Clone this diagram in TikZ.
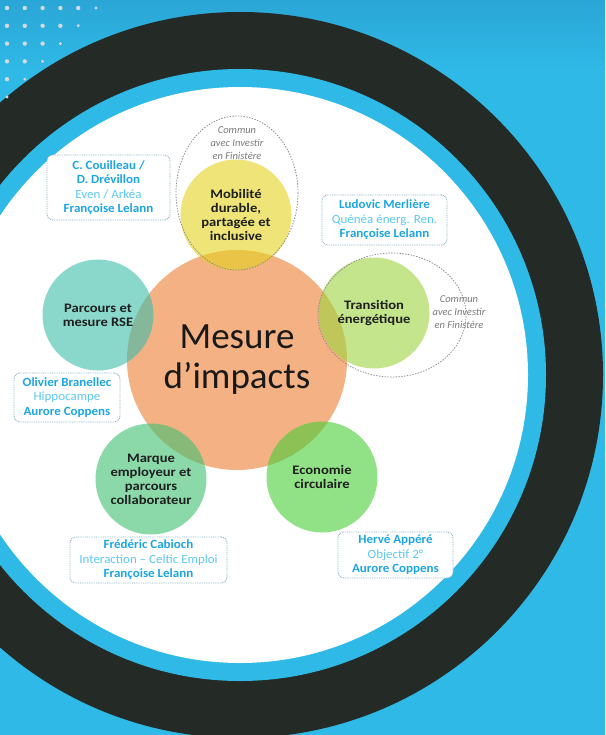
\documentclass[tikz,border=0pt]{standalone}
\usepackage{fontspec}
\setmainfont{Carlito}
\newfontfamily\topicfont[FakeStretch=1.12]{Carlito}
\newfontfamily\boxfont[FakeStretch=1.04]{Carlito}
\usetikzlibrary{shapes.geometric}
\definecolor{bgblue}{HTML}{2FB9E6}
\definecolor{topblue}{HTML}{2AA6D6}
\definecolor{ringdark}{HTML}{242A25}
\definecolor{dotgray}{HTML}{D3D9DE}
\definecolor{orangec}{HTML}{F4B183}
\definecolor{yellowc}{RGB}{227,210,30}
\definecolor{limec}{RGB}{157,213,63}
\definecolor{tealc}{RGB}{60,190,170}
\definecolor{mintc}{RGB}{63,193,113}
\definecolor{greenc}{RGB}{72,205,55}
\definecolor{namecol}{HTML}{1DA5E2}
\definecolor{orgcol}{HTML}{5CC8F0}
\definecolor{boxborder}{HTML}{8DB3C4}
\definecolor{dashgray}{HTML}{8C8C8C}
\definecolor{communcol}{HTML}{7A7A7A}
\newcommand{\nm}[1]{{\bfseries\color{namecol}#1}}
\newcommand{\og}[1]{{\color{orgcol}#1}}
\begin{document}
\begin{tikzpicture}[x=1pt,y=-1pt,
  topic/.style={circle, minimum size=111pt, inner sep=0pt, fill opacity=0.6,
    text opacity=1, align=center, text=black!88,
    font=\topicfont\bfseries\fontsize{13}{14}\selectfont},
  infobox/.style={draw=boxborder, line width=0.9pt, dash pattern=on 0.9pt off 0.9pt,
    rounded corners=6pt, fill=white, align=center, inner sep=0pt,
    font=\boxfont\fontsize{12.5}{14.5}\selectfont},
  zone/.style={draw=dashgray, line width=0.8pt, dash pattern=on 1.4pt off 1.4pt},
  communtxt/.style={align=center, text=communcol, inner sep=0pt,
    font=\itshape\fontsize{10.5}{12.8}\selectfont},
]
\useasboundingbox (0,0) rectangle (605,735);
\clip (0,0) rectangle (605,735);
% background
\fill[bgblue] (0,0) rectangle (605,735);
\shade[top color=topblue, bottom color=bgblue] (0,0) rectangle (605,70);
% rings
\fill[ringdark] (240,375) circle[radius=363pt];
\fill[bgblue] (240,375) circle[radius=306pt];
\fill[white] (240,375) circle[radius=288pt];
% dots
\foreach \r in {0,...,5}{
  \pgfmathtruncatemacro{\last}{5-\r}
  \foreach \c in {0,...,\last}{
    \pgfmathsetmacro{\rad}{ifthenelse(\c==\last,1.6,2.2)}
    \fill[dotgray] ({7+17.8*\c},{8+17.8*\r}) circle[radius=\rad pt];
  }
}
% central circle
\node[circle, minimum size=220pt, inner sep=0pt, fill=orangec, align=center,
  text=black!90, font=\fontsize{37}{40}\selectfont] (impact) at (237,360)
  {Mesure\\d’impacts};
% topics
\node[topic, fill=yellowc] (mobilite) at (236,215)
  {Mobilité\\durable,\\partagée et\\inclusive};
\node[topic, fill=limec] (transition) at (374,313)
  {Transition\\énergétique};
\node[topic, fill=tealc] (rse) at (98,315)
  {Parcours et\\mesure RSE};
\node[topic, fill=mintc] (marque) at (151,479)
  {Marque\\employeur et\\parcours\\collaborateur};
\node[topic, fill=greenc] (economie) at (322,477)
  {Economie\\circulaire};
% dashed zones
\draw[zone] (237,193) ellipse[x radius=61pt, y radius=77pt];
\draw[zone] (392,315) ellipse[x radius=74pt, y radius=62pt];
\node[communtxt] (commun1) at (237,143) {Commun\\avec Investir\\en Finistère};
\node[communtxt] (commun2) at (459,312) {Commun\\avec Investir\\en Finistère};
% info boxes
\node[infobox, minimum width=123pt, minimum height=65pt] (box1) at (108.5,187.5)
  {\nm{C. Couilleau /}\\\nm{D. Drévillon}\\\og{Even / Arkéa}\\\nm{Françoise Lelann}};
\node[infobox, minimum width=125pt, minimum height=50pt] (box2) at (384.5,220)
  {\nm{Ludovic Merlière}\\\og{Quénéa énerg. Ren.}\\\nm{Françoise Lelann}};
\node[infobox, minimum width=106pt, minimum height=49pt] (box3) at (67,397.5)
  {\nm{Olivier Branellec}\\\og{Hippocampe}\\\nm{Aurore Coppens}};
\node[infobox, minimum width=157pt, minimum height=46pt] (box4) at (148.5,560)
  {\nm{Frédéric Cabioch}\\\og{Interaction – Celtic Emploi}\\\nm{Françoise Lelann}};
\node[infobox, minimum width=115pt, minimum height=46pt] (box5) at (395.5,555)
  {\nm{Hervé Appéré}\\\og{Objectif 2°}\\\nm{Aurore Coppens}};
\end{tikzpicture}
\end{document}
